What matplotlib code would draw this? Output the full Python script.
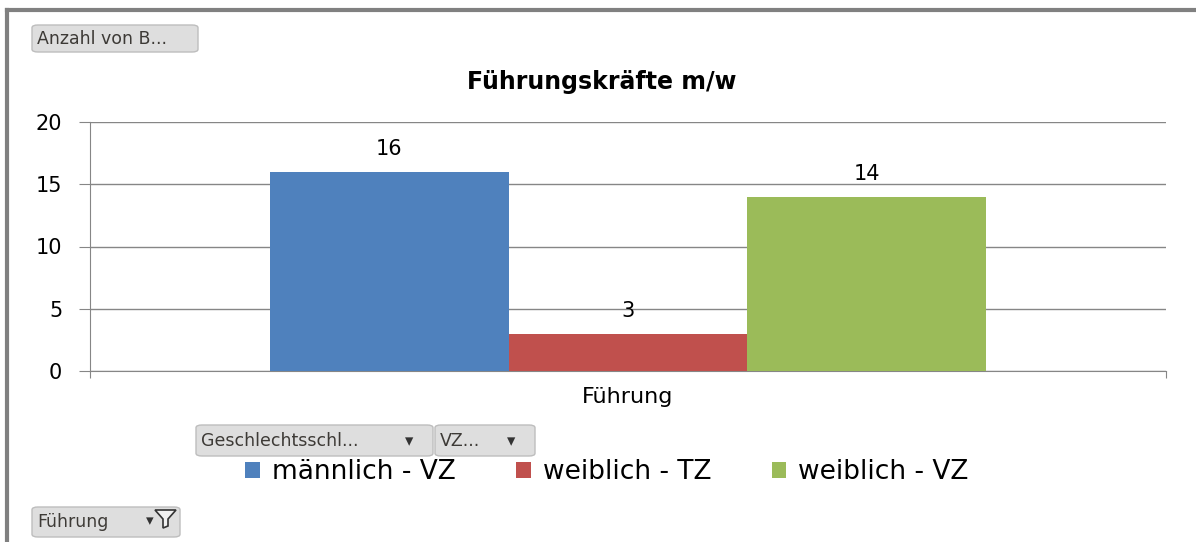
import matplotlib
matplotlib.use("Agg")
import matplotlib.pyplot as plt
from matplotlib.patches import FancyBboxPatch, Polygon
from matplotlib.lines import Line2D

categories = ["Führung"]
series_names = ["männlich - VZ", "weiblich - TZ", "weiblich - VZ"]
series_values = [16, 3, 14]
colors = ["#4F81BD", "#C0504D", "#9BBB59"]
yticks = [0, 5, 10, 15, 20]
title = "Führungskräfte m/w"

W, H = 1196, 542
plt.rcParams['font.family'] = ['DejaVu Sans']
fig = plt.figure(figsize=(W / 100, H / 100), dpi=100)

def fx(x):
    return x / W

def fy(y):
    return 1 - y / H

# outer frame
fig.add_artist(Line2D([fx(7), 1.0], [fy(10), fy(10)], color="#808080", lw=3))
fig.add_artist(Line2D([fx(7), fx(7)], [fy(10), 0], color="#808080", lw=3))

# axes
ax_l, ax_r, ax_t, ax_b = 90, 1166, 122, 371
ax = fig.add_axes([fx(ax_l), fy(ax_b), fx(ax_r - ax_l), (ax_b - ax_t) / H])
n = len(series_values)
group_w = 0.666
bw = group_w / n
for i, (name, v, c) in enumerate(zip(series_names, series_values, colors)):
    xpos = -group_w / 2 + bw * (i + 0.5)
    ax.bar(xpos, v, width=bw, color=c, label=name, zorder=3)
    ax.text(xpos, v + 1.0, str(v), ha="center", va="bottom", fontsize=15, color="#000000")

ax.set_xlim(-0.5, 0.5)
ax.set_ylim(0, 20)
ax.set_yticks(yticks)
ax.set_yticklabels([str(t) for t in yticks], fontsize=15)
ax.yaxis.grid(True, color="#868686", lw=1, zorder=0)
ax.set_xticks([-0.5, 0.5])
ax.set_xticklabels(["", ""])
ax.tick_params(axis="x", length=5, color="#868686")
ax.tick_params(axis="y", length=8, color="#868686", pad=12)
for s in ["top", "right"]:
    ax.spines[s].set_visible(False)
ax.spines["left"].set_color("#868686")
ax.spines["bottom"].set_color("#868686")
ax.text(0.0, -0.105, categories[0], transform=ax.get_xaxis_transform(),
        ha="center", va="center", fontsize=16)

fig.text(fx(602), fy(82), title, ha="center", va="center", fontsize=17, fontweight="bold")

# legend
handles, labels = ax.get_legend_handles_labels()
fig.legend(handles, labels, loc="center", bbox_to_anchor=(fx(607), fy(472)), ncol=3,
           frameon=False, fontsize=19, handlelength=0.55, handleheight=0.55,
           handletextpad=0.45, columnspacing=2.3)

# pivot buttons
def button(x0, y0, x1, y1, text, arrow=False):
    box = FancyBboxPatch((fx(x0), fy(y1)), fx(x1 - x0), (y1 - y0) / H,
                         boxstyle="round,pad=0,rounding_size=0.005",
                         transform=fig.transFigure, facecolor="#DEDEDE",
                         edgecolor="#BDBDBD", lw=1)
    fig.add_artist(box)
    fig.text(fx(x0 + 5), fy((y0 + y1) / 2), text, ha="left", va="center",
             fontsize=12.5, color="#3d3a36")
    if arrow:
        fig.text(fx(x1 - 24), fy((y0 + y1) / 2 + 1), "▾", ha="center", va="center",
                 fontsize=12, color="#333333")

button(32, 25, 198, 52, "Anzahl von B...")
button(196, 425, 433, 456, "Geschlechtsschl...", arrow=True)
button(435, 425, 535, 456, "VZ...", arrow=True)
button(32, 507, 180, 537, "Führung")
fig.text(fx(150), fy(521), "▾", ha="center", va="center", fontsize=11, color="#333333")
fun = Polygon([[fx(155), fy(510)], [fx(176), fy(510)], [fx(168), fy(519)], [fx(168), fy(526)],
               [fx(163), fy(528)], [fx(163), fy(519)]], closed=True, transform=fig.transFigure,
              facecolor="#f0f0f0", edgecolor="#333333", lw=1.2)
fig.add_artist(fun)

fig.savefig("out.png", dpi=100)
